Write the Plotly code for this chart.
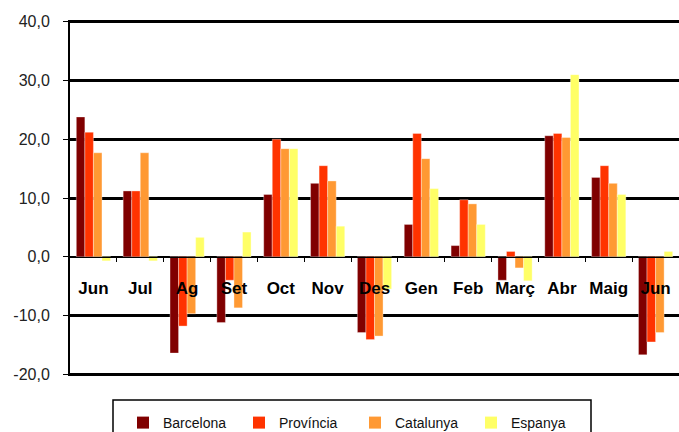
import plotly.graph_objects as go

months = ["Jun", "Jul", "Ag", "Set", "Oct", "Nov", "Des", "Gen", "Feb", "Març", "Abr", "Maig", "Jun"]
barcelona = [23.8, 11.2, -16.4, -11.2, 10.6, 12.5, -12.9, 5.5, 1.9, -4.0, 20.6, 13.5, -16.7]
provincia = [21.2, 11.2, -11.8, -4.0, 20.0, 15.5, -14.1, 21.0, 9.7, 0.9, 21.0, 15.5, -14.5]
catalunya = [17.7, 17.7, -9.7, -8.7, 18.4, 12.9, -13.5, 16.7, 9.0, -1.9, 20.3, 12.5, -12.9]
espanya = [-0.7, -0.7, 3.3, 4.2, 18.4, 5.2, -5.5, 11.6, 5.5, -4.1, 31.0, 10.6, 0.9]

series_names = ["Barcelona", "Província", "Catalunya", "Espanya"]
series_values = [barcelona, provincia, catalunya, espanya]
colors = ["#800000", "#FF3300", "#FF9933", "#FFFF66"]

y_ticks = [-20, -10, 0, 10, 20, 30, 40]
y_ticktext = ["-20,0", "-10,0", "0,0", "10,0", "20,0", "30,0", "40,0"]

FONT = "Liberation Sans, Arial, sans-serif"
xs = list(range(len(months)))

W, H = 679, 432
ML, MR, MT, MB = 70, 0, 20, 56
PW, PH = W - ML - MR, H - MT - MB


def px_x(px):
    return (px - ML) / PW


def px_y(py):
    return (H - MB - py) / PH


fig = go.Figure()
for name, vals, col in zip(series_names, series_values, colors):
    fig.add_trace(go.Bar(
        x=xs, y=vals, name=name, showlegend=False,
        marker=dict(color=col, line=dict(color="rgba(255,255,255,0.35)", width=1)),
    ))
# legend entries with small square markers
for name, col in zip(series_names, colors):
    fig.add_trace(go.Scatter(
        x=[None], y=[None], mode="markers", name=name,
        marker=dict(symbol="square", size=8, color=col),
    ))

# legend frame (extends past bottom edge as in the reference)
fig.add_shape(type="rect", xref="paper", yref="paper",
              x0=px_x(113), x1=px_x(591), y0=px_y(445), y1=px_y(400),
              line=dict(color="black", width=1.5), fillcolor="rgba(0,0,0,0)")

fig.update_layout(
    width=W, height=H,
    margin=dict(l=ML, r=MR, t=MT, b=MB, autoexpand=False),
    paper_bgcolor="white", plot_bgcolor="white",
    barmode="group", bargap=0.27, bargroupgap=0,
    font=dict(family=FONT, color="#111"),
    showlegend=True,
    legend=dict(
        orientation="h", x=px_x(123), xanchor="left", y=px_y(407), yanchor="top",
        borderwidth=0, bgcolor="rgba(0,0,0,0)",
        font=dict(family=FONT, size=14, color="#111"),
        entrywidth=71, entrywidthmode="pixels",
        itemsizing="constant",
    ),
    xaxis=dict(
        range=[-0.5, 12.5],
        tickvals=xs, ticktext=months,
        ticks="", ticklen=0,
        tickfont=dict(family=FONT, size=17, color="black", weight="bold"),
        anchor="free", position=20.3 / 60.6,
        showline=True, linecolor="black", linewidth=1,
        showgrid=False, zeroline=False,
        ticklabelstandoff=16,
        minor=dict(tickvals=[i + 0.5 for i in xs], ticks="outside", ticklen=4,
                   tickcolor="black", tickwidth=1, showgrid=False),
    ),
    yaxis=dict(
        range=[-20.3, 40.3],
        tickvals=y_ticks, ticktext=y_ticktext,
        ticks="outside", ticklen=5, tickcolor="black", tickwidth=1,
        tickfont=dict(family=FONT, size=16, color="#222"),
        ticklabelstandoff=10,
        showline=True, linecolor="black", linewidth=2,
        showgrid=True, gridcolor="black", gridwidth=3,
        zeroline=True, zerolinecolor="black", zerolinewidth=1,
    ),
)

fig.write_html("out.html", config={"displayModeBar": False})

# remove default browser body margin so the figure sits at the page corner
with open("out.html", "r", encoding="utf-8") as f:
    html = f.read()
html = html.replace("<head>", "<head><style>html,body{margin:0;padding:0;overflow:hidden;}</style>", 1)
with open("out.html", "w", encoding="utf-8") as f:
    f.write(html)
